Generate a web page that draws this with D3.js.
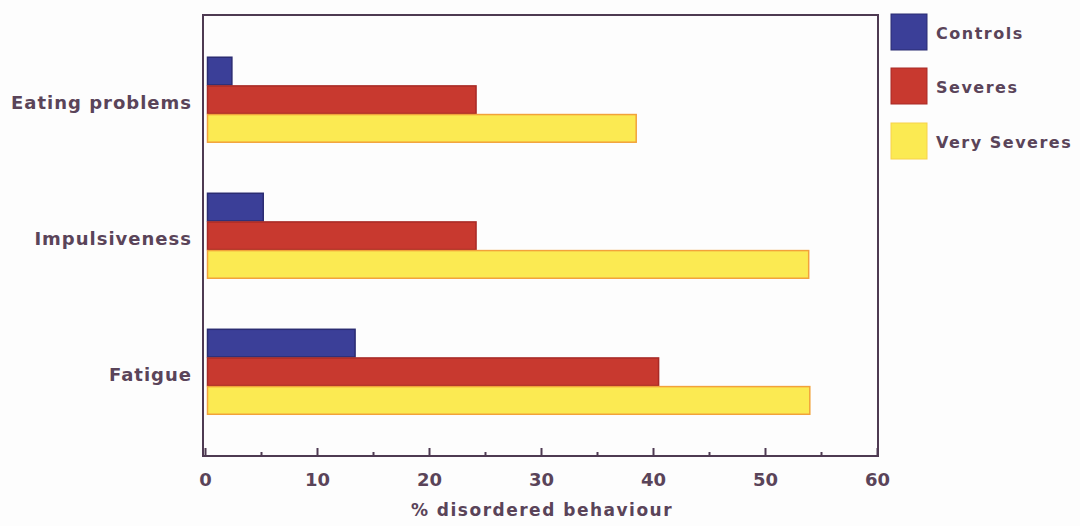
<!DOCTYPE html>
<html><head><meta charset="utf-8">
<script src="https://cdn.jsdelivr.net/npm/d3@7"></script>
<style>
html,body{margin:0;padding:0;background:#fdfdfd;}
text{font-family:"DejaVu Sans",sans-serif;font-weight:bold;fill:#5a4459;}
</style></head>
<body><svg id="c" width="1080" height="526"></svg>
<script>
const categories = ["Eating problems", "Impulsiveness", "Fatigue"];
const seriesNames = ["Controls", "Severes", "Very Severes"];
const controls = [2.4, 5.2, 13.4];
const severes = [24.2, 24.2, 40.5];
const verySeveres = [38.5, 53.9, 54.0];
const xTicks = [0, 10, 20, 30, 40, 50, 60];
const xMinorTicks = [5, 15, 25, 35, 45, 55];
const xTitle = "% disordered behaviour";

const series = [controls, severes, verySeveres];
const fills = ["#3b3f98", "#c8392f", "#fbea52"];
const strokes = ["#2b2c72", "#a82a26", "#f2a23a"];

const svg = d3.select("#c");
const L = 203, R = 878, T = 15, B = 456;
const x = d3.scaleLinear().domain([0, 60]).range([205, 877]);
const y = d3.scaleBand().domain(categories).range([T, B]).paddingInner(0.368).paddingOuter(0.305);
const yi = d3.scaleBand().domain(seriesNames).range([0, y.bandwidth()]);

// frame
svg.append("rect").attr("x", L).attr("y", T).attr("width", R - L).attr("height", B - T)
  .attr("fill", "none").attr("stroke", "#4e3a52").attr("stroke-width", 2);

// bars
categories.forEach((c, i) => {
  series.forEach((s, j) => {
    svg.append("rect")
      .attr("x", x(0) + 2.5)
      .attr("y", y(c) + yi(seriesNames[j]) + 0.75)
      .attr("width", x(s[i]) - x(0) - 2.5)
      .attr("height", yi.bandwidth() - 1)
      .attr("fill", fills[j]).attr("stroke", strokes[j]).attr("stroke-width", 1.5);
  });
});

// x axis
const xAxis = d3.axisBottom(x).tickValues(xTicks).tickSize(-8).tickPadding(25).tickSizeOuter(0);
const gx = svg.append("g").attr("transform", `translate(0,${B})`).call(xAxis);
gx.select(".domain").remove();
gx.selectAll("line").attr("stroke", "#4e3a52").attr("stroke-width", 2);
gx.selectAll("text").attr("font-size", 18).attr("dy", "0.25em");
const gm = svg.append("g").attr("transform", `translate(0,${B})`)
  .call(d3.axisBottom(x).tickValues(xMinorTicks).tickSize(-4).tickFormat(""));
gm.select(".domain").remove();
gm.selectAll("line").attr("stroke", "#4e3a52").attr("stroke-width", 2);

// y labels
const gy = svg.append("g").attr("transform", `translate(${L},4)`)
  .call(d3.axisLeft(y).tickSize(0).tickPadding(11));
gy.select(".domain").remove();
gy.selectAll("text").attr("font-size", 18).attr("letter-spacing", 1);

// x title
svg.append("text").attr("x", 542).attr("y", 516).attr("text-anchor", "middle")
  .attr("font-size", 17).attr("letter-spacing", 1.5).text(xTitle);

// legend
const legY = [14, 68, 123];
seriesNames.forEach((n, j) => {
  svg.append("rect").attr("x", 891).attr("y", legY[j]).attr("width", 36).attr("height", 36)
    .attr("fill", fills[j]).attr("stroke", j === 2 ? "#f7d24a" : strokes[j]).attr("stroke-width", 1);
  svg.append("text").attr("x", 936).attr("y", legY[j] + 19).attr("dy", "0.35em")
    .attr("font-size", 16).attr("letter-spacing", 1.5).text(n);
});
</script></body></html>
